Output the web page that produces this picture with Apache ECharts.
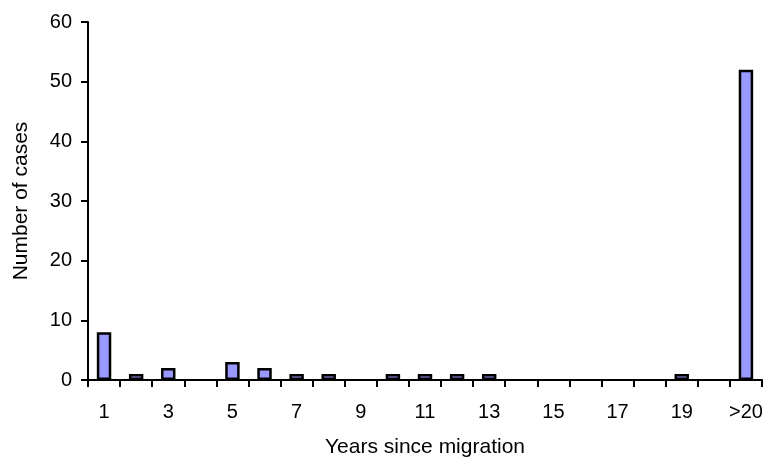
<!DOCTYPE html>
<html><head><meta charset="utf-8">
<script src="https://cdn.jsdelivr.net/npm/echarts@6/dist/echarts.min.js"></script>
<style>html,body{margin:0;padding:0;background:#fff}#c{width:768px;height:467px}</style>
</head><body><div id="c"></div>
<script>
const categories = ['1','2','3','4','5','6','7','8','9','10','11','12','13','14','15','16','17','18','19','20','>20'];
const cases = [8,1,2,0,3,2,1,1,0,1,1,1,1,0,0,0,0,0,1,0,52];
const yTicks = {min:0, max:60, interval:10};
const chart = echarts.init(document.getElementById('c'));
const font = 'Liberation Sans, Arial, sans-serif';
chart.setOption({
  animation:false,
  grid:{left:88, right:6, top:22, bottom:87},
  xAxis:{
    type:'category', data:categories,
    name:'Years since migration', nameLocation:'middle', nameGap:57,
    nameTextStyle:{fontFamily:font, fontSize:21, color:'#000'},
    axisLine:{lineStyle:{color:'#000', width:2}},
    axisTick:{show:true, interval:0, length:7, lineStyle:{color:'#000', width:2}},
    axisLabel:{interval:1, fontFamily:font, fontSize:20, color:'#000', margin:22},
    splitLine:{show:false}
  },
  yAxis:{
    type:'value', min:yTicks.min, max:yTicks.max, interval:yTicks.interval,
    name:'Number of cases', nameLocation:'middle', nameGap:56,
    nameTextStyle:{fontFamily:font, fontSize:21, color:'#000'},
    axisLine:{show:true, lineStyle:{color:'#000', width:2}},
    axisTick:{show:true, length:7, lineStyle:{color:'#000', width:2}},
    axisLabel:{fontFamily:font, fontSize:20, color:'#000', margin:16},
    splitLine:{show:false}
  },
  series:[{
    type:'bar', data:cases.map(v => v === 0 ? '-' : v), barWidth:'45%',
    itemStyle:{color:'#9999FF', borderColor:'#000', borderWidth:2.5}
  }]
});
</script></body></html>
